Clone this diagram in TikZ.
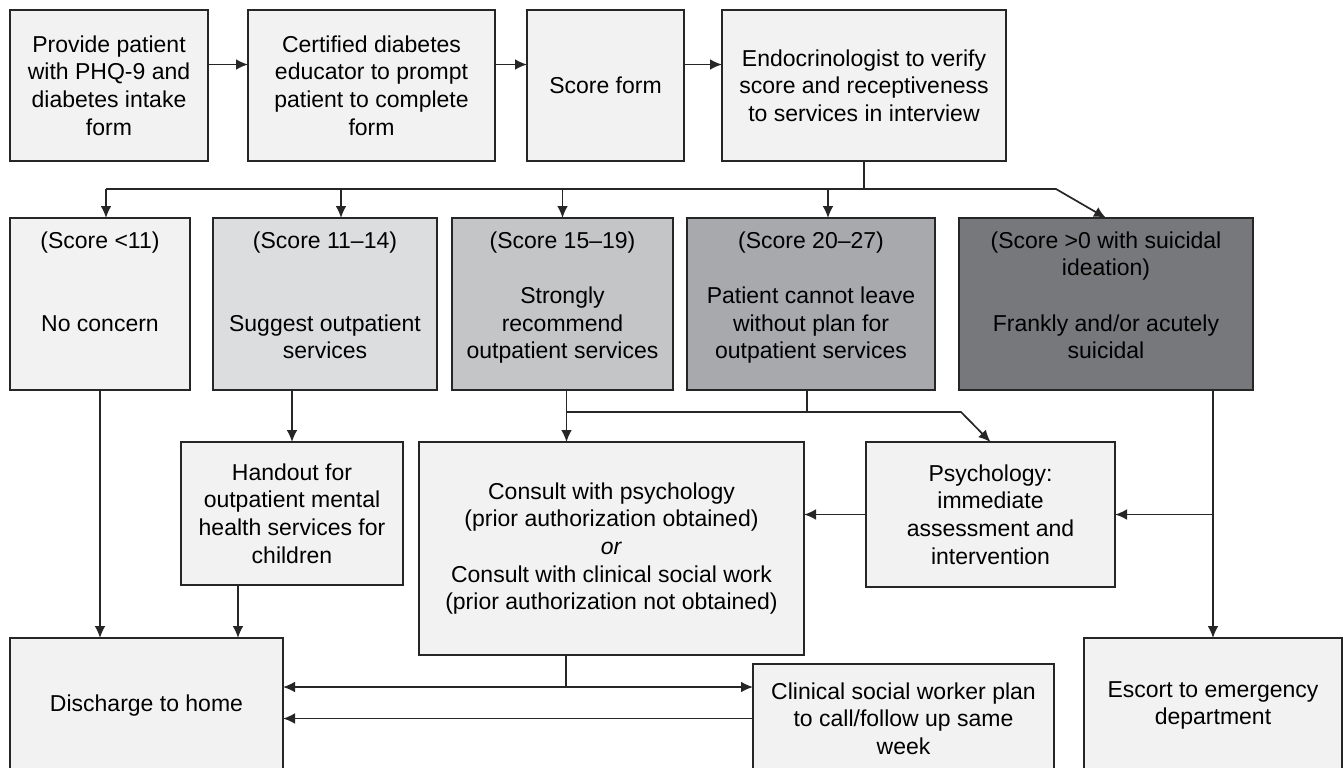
\documentclass[tikz,border=0pt]{standalone}
\usepackage{fontspec}
\setmainfont{Liberation Sans}
\usetikzlibrary{positioning}
\usetikzlibrary{arrows.meta}
\definecolor{edgegray}{HTML}{262626}
\definecolor{paper}{HTML}{F2F2F2}
\definecolor{lvltwo}{HTML}{DCDDDF}
\definecolor{lvlthree}{HTML}{C4C5C7}
\definecolor{lvlfour}{HTML}{A7A9AC}
\definecolor{lvlfive}{HTML}{77787B}
\tikzset{
  box/.style      = { rectangle, draw=edgegray, line width=1pt, fill=paper,
                      align=center, inner sep=0pt, outer sep=0pt,
                      font=\fontsize{11.5}{13.8}\selectfont },
  task/.style     = { box, minimum height=75.5pt },
  band/.style     = { box, minimum height=86pt },
  action/.style   = { box },
  outcome/.style  = { box, minimum height=67.5pt },
}
% pulls the text block of a band a little towards its top
\newcommand{\lift}{\\[-5pt]\mbox{}}

\begin{document}
\begin{tikzpicture}[
  >={Latex[length=6pt,width=5.4pt]},
  line width=0.85pt, draw=edgegray
]
  \useasboundingbox (0,0) rectangle (672pt,-383.5pt);

  % intake
  \node (provide)  [task, minimum width=99pt, anchor=north west] at (5pt,-5pt)
                   {Provide patient\\with PHQ-9 and\\diabetes intake\\form};
  \node (educator) [task, minimum width=123.5pt, right=20pt of provide]
                   {Certified diabetes\\educator to prompt\\patient to complete\\form};
  \node (scoring)  [task, minimum width=78.5pt, right=16pt of educator]
                   {Score form};
  \node (verify)   [task, minimum width=142pt, right=19pt of scoring]
                   {Endocrinologist to verify\\score and receptiveness\\to services in interview};

  % score bands
  \node (low)    [band, minimum width=90pt, below=28.5pt of provide.south west, anchor=north west]
                 {(Score <11)\\[2\baselineskip]No concern\\\mbox{}\lift};
  \node (mild)   [band, fill=lvltwo, minimum width=112pt, right=11.5pt of low]
                 {(Score 11–14)\\[2\baselineskip]Suggest outpatient\\services\lift};
  \node (strong) [band, fill=lvlthree, minimum width=110.5pt, right=7.5pt of mild]
                 {(Score 15–19)\\[\baselineskip]Strongly\\recommend\\outpatient services\lift};
  \node (severe) [band, fill=lvlfour, minimum width=124pt, right=7pt of strong]
                 {(Score 20–27)\\[\baselineskip]Patient cannot leave\\without plan for\\outpatient services\lift};
  \node (fatal)  [band, fill=lvlfive, minimum width=147pt, right=12pt of severe]
                 {(Score >0 with suicidal\\ideation)\\[\baselineskip]Frankly and/or acutely\\suicidal\lift};

  % follow-up
  \node (handout) [action, minimum width=111pt, minimum height=71.5pt,
                   below=26pt of mild.south west, anchor=north west, xshift=-16pt]
                  {Handout for\\outpatient mental\\health services for\\children};
  \node (consult) [action, minimum width=192.5pt, minimum height=106.5pt,
                   right=8pt of handout.north east, anchor=north west]
                  {Consult with psychology\\(prior authorization obtained)\\\textit{or}\\Consult with clinical social work\\(prior authorization not obtained)};
  \node (psych)   [action, minimum width=124.5pt, minimum height=72.5pt,
                   right=31pt of consult.north east, anchor=north west]
                  {Psychology:\\immediate\\assessment and\\intervention};

  % exits
  \node (discharge) [outcome, minimum width=136.5pt,
                     below=124pt of low.south west, anchor=north west]
                    {Discharge to home};
  \node (clinical)  [outcome, minimum width=150.5pt, minimum height=54.5pt,
                     below=38.5pt of psych.south west, anchor=north west, xshift=-56.5pt]
                    {Clinical social worker plan\\to call/follow up same\\week};
  \node (escort)    [outcome, minimum width=129pt,
                     right=15pt of clinical.north east, anchor=north west, yshift=13pt]
                    {Escort to emergency\\department};

  \draw [->] ([yshift=10.5pt]provide.east)  -- ([yshift=10.5pt]educator.west);
  \draw [->] ([yshift=10.5pt]educator.east) -- ([yshift=10.5pt]scoring.west);
  \draw [->] ([yshift=10.5pt]scoring.east)  -- ([yshift=10.5pt]verify.west);

  % fan out to the bands
  \draw (verify.south) -- ++(0,-14pt) coordinate (fork);
  \draw [->] ([xshift=3pt]low.north |- fork) -- ([xshift=-25pt]fatal.north |- fork) -- (fatal.north);
  \draw [->] ([xshift=3pt]low.north |- fork)   -- ([xshift=3pt]low.north);
  \draw [->] ([xshift=8pt]mild.north |- fork)  -- ([xshift=8pt]mild.north);
  \draw [->] (strong.north |- fork)            -- (strong.north);
  \draw [->] ([xshift=8.5pt]severe.north |- fork) -- ([xshift=8.5pt]severe.north);

  \draw [->] (low) -- (low |- discharge.north);
  \draw [->] (handout.north |- mild.south) -- (handout.north);
  \draw [->] ([xshift=-27pt]handout.south) -- ([xshift=-27pt]handout.south |- discharge.north);

  \coordinate (merge) at ([xshift=2pt,yshift=-11pt]strong.south);
  \draw [->] ([xshift=2pt]strong.south) -- ([xshift=2pt]strong.south |- consult.north);
  \draw [->] (merge) -- ([xshift=-14.75pt]psych.north |- merge) -- (psych.north);
  \draw ([xshift=-2pt]severe.south) -- ([xshift=-2pt]severe.south |- merge);

  \draw [->] (psych) -- (psych -| consult.east);
  \draw [->] (escort.north |- fatal.south) -- (escort.north);
  \draw [->] (escort.north |- psych.east) -- (psych.east);

  \coordinate (split) at ([xshift=-22.75pt,yshift=-16pt]consult.south);
  \draw ([xshift=-22.75pt]consult.south) -- (split);
  \draw [->] (split) -- (split -| discharge.east);
  \draw [->] (split) -- (split -| clinical.west);
  \draw [->] (clinical) -- (clinical -| discharge.east);
\end{tikzpicture}
\end{document}
